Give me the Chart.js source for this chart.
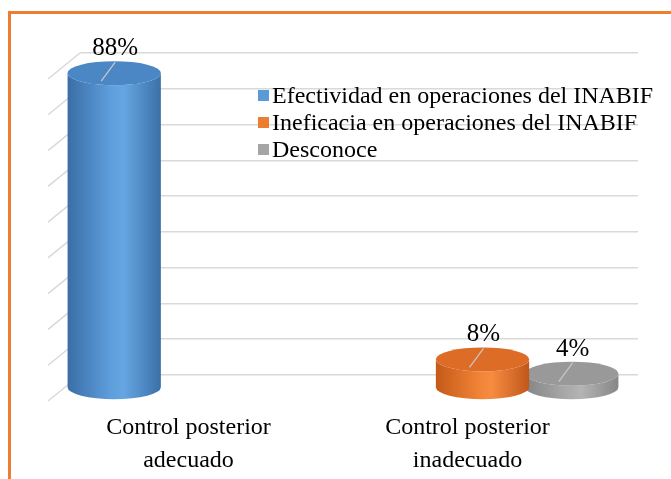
<!DOCTYPE html>
<html>
<head>
<meta charset="utf-8">
<script src="https://cdn.jsdelivr.net/npm/chart.js@4.4.1/dist/chart.umd.min.js"></script>
<style>
  html, body { margin: 0; padding: 0; background: #fff; }
  #wrap { position: relative; width: 671px; height: 479px; overflow: hidden; }
  #marco { position: absolute; left: 8px; top: 11px; width: 700px; height: 500px;
           border-left: 3px solid #ED7D31; border-top: 3px solid #ED7D31; }
  canvas { position: absolute; left: 0; top: 0; }
</style>
</head>
<body>
<div id="wrap">
  <div id="marco"></div>
  <canvas id="grafico" width="671" height="479"></canvas>
</div>
<script>
// datos
const categorias = [['Control posterior', 'adecuado'], ['Control posterior', 'inadecuado']];
const series = ['Efectividad en operaciones del INABIF', 'Ineficacia en operaciones del INABIF', 'Desconoce'];
const efectividad = [88, null];
const ineficacia = [null, 8];
const desconoce = [null, 4];
const etiquetasY = [0, 10, 20, 30, 40, 50, 60, 70, 80, 90];

// estilos
const colores = ['#5B9BD5', '#ED7D31', '#A5A5A5'];
const frente = [
    ['#3a6ea6', '#5d9ddb', '#66a6e2', '#3b70a8'],
    ['#c45a18', '#f08236', '#f68c40', '#c0571a'],
    ['#858585', '#aaaaaa', '#b4b4b4', '#868686']
];
const tapa = ['#4b87c4', '#dc6c26', '#999999'];
const fuente = 'Liberation Serif, Times New Roman, serif';
const DX = -16, DY = 13, RY = 12;

function cilindro(ctx, cx, yTop, yBot, rx, i) {
    const g = ctx.createLinearGradient(cx - rx, 0, cx + rx, 0);
    g.addColorStop(0, frente[i][0]);
    g.addColorStop(0.45, frente[i][1]);
    g.addColorStop(0.6, frente[i][2]);
    g.addColorStop(1, frente[i][3]);
    ctx.beginPath();
    ctx.moveTo(cx - rx, yTop);
    ctx.lineTo(cx - rx, yBot);
    ctx.ellipse(cx, yBot, rx, RY, 0, Math.PI, 0, true);
    ctx.lineTo(cx + rx, yTop);
    ctx.ellipse(cx, yTop, rx, RY, 0, 0, Math.PI, false);
    ctx.closePath();
    ctx.fillStyle = g;
    ctx.fill();
    ctx.beginPath();
    ctx.ellipse(cx, yTop, rx, RY, 0, 0, Math.PI * 2);
    ctx.fillStyle = tapa[i];
    ctx.fill();
}

const pluginCilindros = {
    id: 'cilindros',
    beforeDatasetsDraw(chart) {
        // pared lateral
        const ctx = chart.ctx, a = chart.chartArea, y = chart.scales.y;
        ctx.save();
        ctx.strokeStyle = '#d9d9d9';
        ctx.lineWidth = 1.5;
        etiquetasY.forEach(v => {
            const py = y.getPixelForValue(v);
            ctx.beginPath();
            ctx.moveTo(a.left, py);
            ctx.lineTo(a.left + 2 * DX, py + 2 * DY);
            ctx.stroke();
        });
        ctx.restore();
    },
    afterDatasetsDraw(chart) {
        const ctx = chart.ctx;
        ctx.save();
        [2, 1, 0].forEach(i => {
            chart.getDatasetMeta(i).data.forEach((el, j) => {
                const v = chart.data.datasets[i].data[j];
                if (v == null) return;
                const p = el.getProps(['x', 'y', 'base', 'width'], true);
                cilindro(ctx, p.x + DX, p.y + DY, p.base + DY, p.width / 2 + 2, i);
            });
        });
        // etiquetas de datos
        [0, 1, 2].forEach(i => {
            chart.getDatasetMeta(i).data.forEach((el, j) => {
                const v = chart.data.datasets[i].data[j];
                if (v == null) return;
                const p = el.getProps(['x', 'y'], true);
                const cx = p.x + DX, top = p.y + DY - RY;
                ctx.strokeStyle = '#c8c8c8';
                ctx.lineWidth = 1.2;
                ctx.beginPath();
                ctx.moveTo(cx + 1, top + 1);
                ctx.lineTo(cx - 13, top + 20);
                ctx.stroke();
                ctx.fillStyle = '#000';
                ctx.font = '25px ' + fuente;
                ctx.textAlign = 'center';
                ctx.textBaseline = 'alphabetic';
                ctx.fillText(v + '%', cx + 1, top - 6);
            });
        });
        ctx.restore();
    },
    afterDraw(chart) {
        // leyenda
        const ctx = chart.ctx;
        ctx.save();
        ctx.font = '24px ' + fuente;
        ctx.textBaseline = 'middle';
        ctx.textAlign = 'left';
        series.forEach((s, i) => {
            const y = 96 + i * 27;
            ctx.fillStyle = colores[i];
            ctx.fillRect(258, y - 6, 11, 11);
            ctx.fillStyle = '#000';
            ctx.fillText(s, 272, y + 1);
        });
        ctx.restore();
    }
};

new Chart(document.getElementById('grafico'), {
    type: 'bar',
    data: {
        labels: categorias,
        datasets: [
            { label: series[0], data: efectividad },
            { label: series[1], data: ineficacia },
            { label: series[2], data: desconoce }
        ].map(d => Object.assign(d, {
            backgroundColor: 'rgba(0,0,0,0)',
            borderWidth: 0,
            categoryPercentage: 0.96,
            barPercentage: 1
        }))
    },
    options: {
        responsive: false,
        animation: false,
        devicePixelRatio: 1,
        layout: { padding: { left: 80, right: 33, top: 53, bottom: 0 } },
        plugins: { legend: { display: false }, tooltip: { enabled: false } },
        scales: {
            x: {
                grid: { display: false },
                border: { display: false },
                ticks: {
                    color: '#000',
                    font: { family: fuente, size: 24, lineHeight: 1.375 },
                    padding: 28,
                    labelOffset: -31,
                    maxRotation: 0,
                    autoSkip: false
                },
                afterFit: s => { s.height = 104; }
            },
            y: {
                min: 0,
                max: 90,
                ticks: { display: false, stepSize: 10 },
                grid: { color: '#d9d9d9', lineWidth: 1.5, drawTicks: false },
                border: { display: false },
                afterFit: s => { s.width = 0; }
            }
        }
    },
    plugins: [pluginCilindros]
});
</script>
</body>
</html>
